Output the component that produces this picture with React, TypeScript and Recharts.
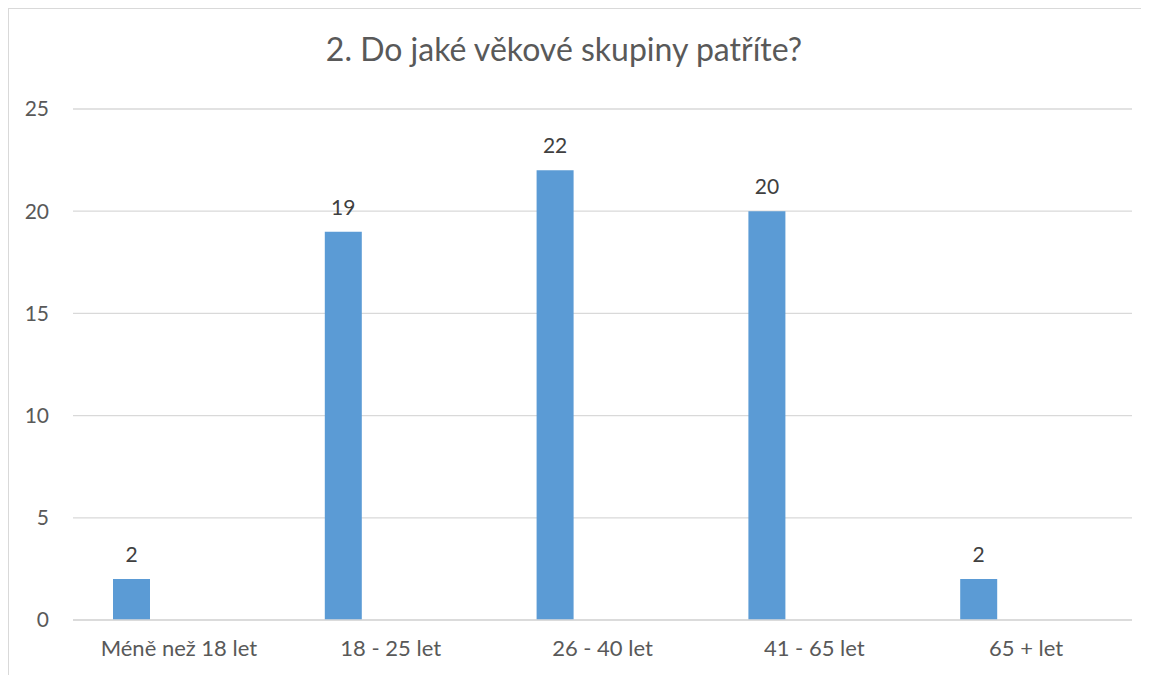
import React from "react"
import { BarChart, Bar, XAxis, YAxis, CartesianGrid, LabelList } from "recharts"

// Respondents by age group
const ageGroups = ["Méně než 18 let", "18 - 25 let", "26 - 40 let", "41 - 65 let", "65 + let"]
const respondents = [2, 19, 22, 20, 2]
const yTicks = [0, 5, 10, 15, 20, 25]

const data = ageGroups.map((group, i) => ({
  group,
  count: respondents[i],
  // second, empty series keeps the Excel-style offset of the bars
  spare: null,
}))

const FONT = "Lato, 'Open Sans', sans-serif"

export default function App() {
  return (
    <div
      style={{
        position: "relative",
        width: 1140,
        height: 666,
        borderTop: "1.5px solid #d9d9d9",
        borderLeft: "1.5px solid #d9d9d9",
        fontFamily: FONT,
        background: "#fff",
      }}
    >
      <div
        style={{
          position: "absolute",
          left: 0,
          top: 24,
          width: 1110,
          textAlign: "center",
          fontSize: 32,
          lineHeight: "32px",
          color: "#595959",
        }}
      >
        2. Do jaké věkové skupiny patříte?
      </div>
      <BarChart
        width={1140}
        height={666}
        data={data}
        margin={{ top: 100, right: 17, bottom: 15, left: 0 }}
        barSize={37}
        barGap={58}
      >
        <CartesianGrid vertical={false} stroke="#d9d9d9" strokeWidth={1.3} />
        <XAxis
          dataKey="group"
          axisLine={{ stroke: "#d9d9d9", strokeWidth: 1.3 }}
          tickLine={false}
          tickSize={0}
          tickMargin={20}
          height={40}
          interval={0}
          tick={{ fill: "#595959", fontSize: 22, fontFamily: FONT }}
        />
        <YAxis
          domain={[0, 25]}
          ticks={yTicks}
          axisLine={false}
          tickLine={false}
          tickSize={0}
          tickMargin={24}
          width={64}
          tick={{ fill: "#595959", fontSize: 21, fontFamily: FONT }}
        />
        <Bar dataKey="count" fill="#5b9bd5" isAnimationActive={false}>
          <LabelList
            dataKey="count"
            position="top"
            offset={17}
            fill="#404040"
            fontSize={21}
            fontFamily={FONT}
          />
        </Bar>
        <Bar dataKey="spare" fill="#ed7d31" isAnimationActive={false} />
      </BarChart>
    </div>
  )
}
